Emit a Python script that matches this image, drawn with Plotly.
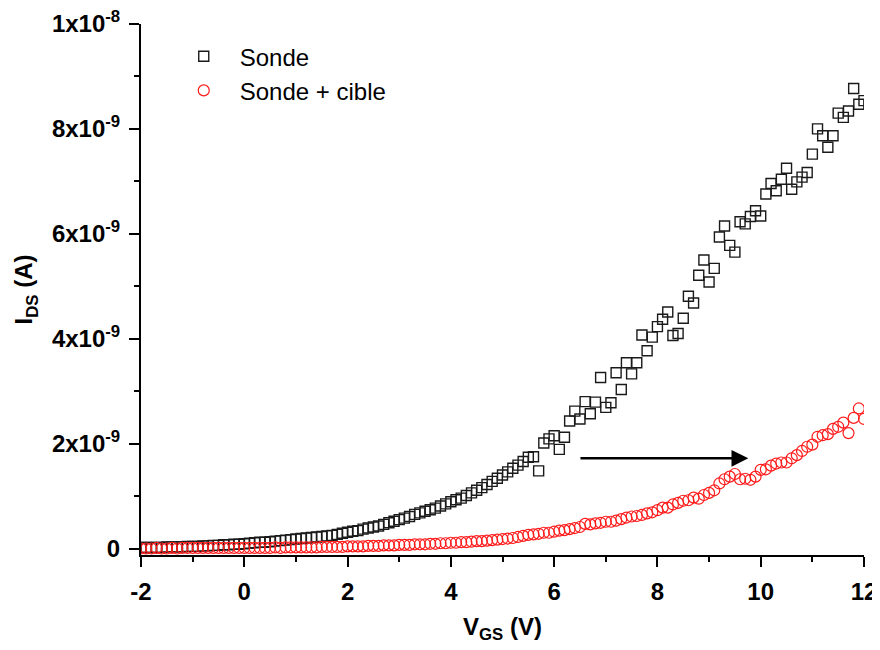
import plotly.graph_objects as go

# Gate voltage sweep (V)
vgs = [
    -2.0, -1.9, -1.8, -1.7, -1.6, -1.5, -1.4, -1.3, -1.2, -1.1,
    -1.0, -0.9, -0.8, -0.7, -0.6, -0.5, -0.4, -0.3, -0.2, -0.1,
    0.0, 0.1, 0.2, 0.3, 0.4, 0.5, 0.6, 0.7, 0.8, 0.9,
    1.0, 1.1, 1.2, 1.3, 1.4, 1.5, 1.6, 1.7, 1.8, 1.9,
    2.0, 2.1, 2.2, 2.3, 2.4, 2.5, 2.6, 2.7, 2.8, 2.9,
    3.0, 3.1, 3.2, 3.3, 3.4, 3.5, 3.6, 3.7, 3.8, 3.9,
    4.0, 4.1, 4.2, 4.3, 4.4, 4.5, 4.6, 4.7, 4.8, 4.9,
    5.0, 5.1, 5.2, 5.3, 5.4, 5.5, 5.6, 5.7, 5.8, 5.9,
    6.0, 6.1, 6.2, 6.3, 6.4, 6.5, 6.6, 6.7, 6.8, 6.9,
    7.0, 7.1, 7.2, 7.3, 7.4, 7.5, 7.6, 7.7, 7.8, 7.9,
    8.0, 8.1, 8.2, 8.3, 8.4, 8.5, 8.6, 8.7, 8.8, 8.9,
    9.0, 9.1, 9.2, 9.3, 9.4, 9.5, 9.6, 9.7, 9.8, 9.9,
    10.0, 10.1, 10.2, 10.3, 10.4, 10.5, 10.6, 10.7, 10.8, 10.9,
    11.0, 11.1, 11.2, 11.3, 11.4, 11.5, 11.6, 11.7, 11.8, 11.9,
    12.0,
]

# I_DS in nA, "Sonde"
ids_sonde_nA = [
    0.02, 0.02, 0.02, 0.02, 0.02, 0.03, 0.03, 0.03, 0.03, 0.04,
    0.04, 0.04, 0.05, 0.05, 0.06, 0.06, 0.07, 0.07, 0.08, 0.08,
    0.09, 0.10, 0.11, 0.12, 0.12, 0.13, 0.14, 0.15, 0.16, 0.17,
    0.18, 0.19, 0.20, 0.21, 0.22, 0.23, 0.24, 0.25, 0.27, 0.29,
    0.31, 0.33, 0.34, 0.37, 0.39, 0.41, 0.43, 0.46, 0.49, 0.52,
    0.55, 0.58, 0.61, 0.65, 0.68, 0.71, 0.74, 0.77, 0.81, 0.85,
    0.89, 0.93, 0.96, 1.01, 1.06, 1.11, 1.16, 1.22, 1.28, 1.34,
    1.40, 1.46, 1.53, 1.59, 1.66, 1.74, 1.75, 1.48, 2.01, 2.09,
    2.15, 1.89, 2.12, 2.43, 2.62, 2.47, 2.80, 2.57, 2.79, 3.26,
    2.69, 2.78, 3.35, 3.03, 3.54, 3.33, 3.54, 4.07, 3.77, 4.03,
    4.23, 4.37, 4.51, 4.06, 4.10, 4.39, 4.81, 4.68, 5.21, 5.50,
    5.08, 5.34, 5.94, 6.15, 5.78, 5.65, 6.23, 6.19, 6.33, 6.44,
    6.34, 6.76, 6.96, 6.82, 7.04, 7.25, 6.85, 6.99, 7.08, 7.17,
    7.52, 8.00, 7.87, 7.65, 7.87, 8.30, 8.22, 8.34, 8.77, 8.47,
    8.54,
]

# I_DS in nA, "Sonde + cible"
ids_cible_nA = [
    0.00, 0.00, 0.00, 0.01, 0.00, 0.00, 0.01, 0.00, 0.01, 0.01,
    0.01, 0.01, 0.01, 0.01, 0.01, 0.01, 0.01, 0.01, 0.01, 0.01,
    0.01, 0.01, 0.01, 0.01, 0.01, 0.01, 0.02, 0.01, 0.02, 0.02,
    0.02, 0.02, 0.02, 0.02, 0.02, 0.03, 0.03, 0.03, 0.03, 0.03,
    0.04, 0.04, 0.04, 0.04, 0.05, 0.05, 0.05, 0.06, 0.06, 0.06,
    0.07, 0.07, 0.07, 0.08, 0.08, 0.08, 0.09, 0.09, 0.10, 0.10,
    0.11, 0.11, 0.12, 0.12, 0.13, 0.14, 0.14, 0.15, 0.16, 0.17,
    0.18, 0.19, 0.20, 0.22, 0.24, 0.26, 0.27, 0.28, 0.30, 0.30,
    0.32, 0.34, 0.35, 0.37, 0.39, 0.41, 0.47, 0.46, 0.48, 0.49,
    0.51, 0.51, 0.53, 0.56, 0.59, 0.61, 0.62, 0.64, 0.67, 0.69,
    0.73, 0.78, 0.78, 0.84, 0.87, 0.91, 0.92, 0.97, 0.95, 1.02,
    1.06, 1.11, 1.24, 1.32, 1.37, 1.42, 1.32, 1.33, 1.31, 1.37,
    1.50, 1.51, 1.58, 1.62, 1.64, 1.64, 1.72, 1.78, 1.86, 1.94,
    1.98, 2.13, 2.16, 2.18, 2.28, 2.32, 2.40, 2.20, 2.49, 2.67,
    2.47,
]

series_names = ["Sonde", "Sonde + cible"]

x_tickvals = [-2, 0, 2, 4, 6, 8, 10, 12]
x_ticktext = ["-2", "0", "2", "4", "6", "8", "10", "12"]
y_tickvals = [0, 2e-9, 4e-9, 6e-9, 8e-9, 1e-8]
y_ticktext = ["0", "2x10<sup>-9</sup>", "4x10<sup>-9</sup>", "6x10<sup>-9</sup>",
              "8x10<sup>-9</sup>", "1x10<sup>-8</sup>"]

# Arrow (data coordinates)
arrow_x0, arrow_x1, arrow_y = 6.48, 9.76, 1.72e-9

NA = 1e-9
ids_sonde = [v * NA for v in ids_sonde_nA]
ids_cible = [v * NA for v in ids_cible_nA]

FONT = "Liberation Sans, Arial, sans-serif"
TICK_SIZE = 24

fig = go.Figure()
fig.add_trace(go.Scatter(
    x=vgs, y=ids_sonde, mode="markers", name=series_names[0],
    marker=dict(symbol="square-open", size=10, color="#1a1a1a", line=dict(width=1.4)),
))
fig.add_trace(go.Scatter(
    x=vgs, y=ids_cible, mode="markers", name=series_names[1],
    marker=dict(symbol="circle-open", size=11, color="#ff1a1a", line=dict(width=1.2)),
))

fig.add_annotation(
    x=arrow_x1, y=arrow_y, ax=arrow_x0, ay=arrow_y,
    xref="x", yref="y", axref="x", ayref="y",
    showarrow=True, arrowhead=2, arrowsize=1.4, arrowwidth=2.4, arrowcolor="black", text="",
)

# the page body adds an 8px offset; margins compensate for it
fig.update_layout(
    width=880, height=650,
    margin=dict(l=133, r=24, t=16, b=103),
    plot_bgcolor="white", paper_bgcolor="white",
    font=dict(family=FONT, size=24, color="black"),
    showlegend=True,
    legend=dict(
        x=0.037, y=0.981, xanchor="left", yanchor="top",
        bgcolor="rgba(0,0,0,0)", font=dict(family=FONT, size=24, color="black"),
        itemwidth=62, tracegroupgap=0,
    ),
    xaxis=dict(
        range=[-2, 12], tickmode="array", tickvals=x_tickvals, ticktext=x_ticktext,
        ticks="outside", ticklen=10, tickwidth=2, tickcolor="black",
        showline=True, linewidth=2, linecolor="black", mirror=False,
        showgrid=False, zeroline=False, automargin=False, ticklabeloverflow="allow",
        tickfont=dict(family=FONT, size=TICK_SIZE, color="black", weight="bold"),
        ticklabelstandoff=4,
        minor=dict(tickmode="linear", tick0=0, dtick=1, ticks="outside", ticklen=5,
                   tickwidth=2, tickcolor="black", showgrid=False),
        title=dict(text="V<sub>GS</sub> (V)", standoff=14,
                   font=dict(family=FONT, size=TICK_SIZE, color="black", weight="bold")),
    ),
    yaxis=dict(
        range=[-0.124e-9, 1e-8], tickmode="array", tickvals=y_tickvals, ticktext=y_ticktext,
        ticks="outside", ticklen=10, tickwidth=2, tickcolor="black",
        showline=True, linewidth=2, linecolor="black", mirror=False,
        showgrid=False, zeroline=False, automargin=False, ticklabeloverflow="allow",
        tickfont=dict(family=FONT, size=TICK_SIZE, color="black", weight="bold"),
        ticklabelstandoff=4,
        minor=dict(tickmode="linear", tick0=0, dtick=1e-9, ticks="outside", ticklen=5,
                   tickwidth=2, tickcolor="black", showgrid=False),
        title=dict(text="I<sub>DS</sub> (A)", standoff=12,
                   font=dict(family=FONT, size=TICK_SIZE, color="black", weight="bold")),
    ),
)

fig.write_html("out.html")
